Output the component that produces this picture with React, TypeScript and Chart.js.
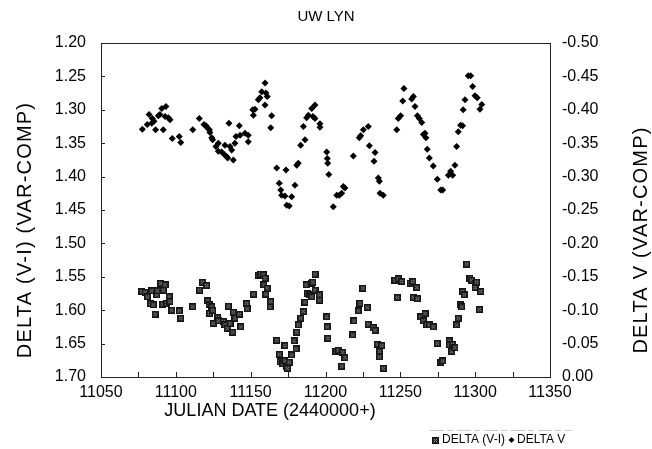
import React, { useEffect, useRef } from 'react';
import { Chart, registerables } from 'chart.js';

Chart.register(...registerables);

const FONT = "'Liberation Sans', Arial, Helvetica, sans-serif";

const chartTitle = 'UW LYN';
const xTitle = 'JULIAN DATE (2440000+)';
const leftTitle = 'DELTA (V-I) (VAR-COMP)';
const rightTitle = 'DELTA V (VAR-COMP)';
const seriesLabels = ['DELTA (V-I)', 'DELTA V'];

const xTicks = [11050, 11100, 11150, 11200, 11250, 11300, 11350];
const xTickMarks = [11050, 11075, 11100, 11125, 11150, 11175, 11200, 11225, 11250, 11275, 11300, 11325, 11350];
const leftTicks = [1.2, 1.25, 1.3, 1.35, 1.4, 1.45, 1.5, 1.55, 1.6, 1.65, 1.7];
const rightTicks = [-0.5, -0.45, -0.4, -0.35, -0.3, -0.25, -0.2, -0.15, -0.1, -0.05, 0];

// DELTA (V-I) series (squares, left axis)
const vmiDates = [
  11077.2, 11079.4, 11081.0, 11083.2, 11083.9, 11084.9, 11086.1, 11087.2, 11087.6, 11089.9,
  11091.2, 11091.6, 11092.8, 11093.9, 11095.6, 11096.1, 11097.2, 11102.3, 11103.3, 11111.3,
  11115.7, 11117.9, 11120.6, 11121.3, 11122.4, 11122.4, 11124.0, 11124.6, 11125.0, 11127.9,
  11128.4, 11131.7, 11132.8, 11134.4, 11135.1, 11136.2, 11138.0, 11138.4, 11139.5, 11142.4,
  11143.3, 11147.3, 11147.7, 11151.8, 11155.1, 11156.7, 11158.4, 11158.9, 11159.6, 11160.2,
  11161.1, 11163.0, 11163.4, 11167.4, 11169.1, 11169.6, 11171.4, 11172.9, 11172.9, 11174.1,
  11174.5, 11175.8, 11177.4, 11179.0, 11180.3, 11180.8, 11181.8, 11183.4, 11185.2, 11186.3,
  11187.0, 11187.8, 11189.6, 11190.8, 11190.8, 11191.5, 11193.0, 11193.0, 11195.9, 11195.9,
  11200.8, 11201.2, 11201.6, 11207.0, 11208.6, 11210.8, 11211.5, 11213.0, 11218.2, 11219.0,
  11221.9, 11223.0, 11224.9, 11227.9, 11228.6, 11231.9, 11233.1, 11234.6, 11236.0, 11236.0,
  11237.6, 11238.6, 11246.4, 11248.0, 11248.6, 11250.9, 11256.5, 11258.3, 11258.7, 11261.0,
  11261.4, 11263.6, 11265.4, 11266.5, 11267.6, 11269.4, 11272.0, 11274.7, 11277.0, 11278.3,
  11282.7, 11282.7, 11284.3, 11285.0, 11286.5, 11287.6, 11288.7, 11289.9, 11291.0, 11291.6,
  11292.7, 11294.3, 11296.5, 11297.6, 11299.9, 11299.9, 11301.0, 11302.8, 11303.7,
];
const vmiValues = [
  1.572, 1.573, 1.580, 1.590, 1.571, 1.592, 1.606, 1.577, 1.571, 1.560,
  1.591, 1.570, 1.562, 1.590, 1.580, 1.587, 1.600, 1.601, 1.612, 1.595,
  1.570, 1.558, 1.563, 1.586, 1.592, 1.605, 1.595, 1.600, 1.620, 1.611,
  1.616, 1.617, 1.622, 1.627, 1.594, 1.620, 1.633, 1.603, 1.612, 1.606,
  1.625, 1.590, 1.598, 1.576, 1.548, 1.546, 1.547, 1.562, 1.552, 1.576,
  1.567, 1.595, 1.587, 1.645, 1.666, 1.677, 1.680, 1.653, 1.676, 1.685,
  1.687, 1.678, 1.667, 1.646, 1.658, 1.633, 1.622, 1.612, 1.602, 1.588,
  1.562, 1.575, 1.577, 1.560, 1.580, 1.558, 1.546, 1.570, 1.577, 1.585,
  1.610, 1.625, 1.642, 1.662, 1.660, 1.684, 1.663, 1.671, 1.637, 1.616,
  1.601, 1.590, 1.567, 1.596, 1.621, 1.626, 1.630, 1.651, 1.662, 1.670,
  1.653, 1.687, 1.555, 1.581, 1.553, 1.557, 1.560, 1.557, 1.581, 1.566,
  1.583, 1.610, 1.616, 1.605, 1.622, 1.622, 1.625, 1.650, 1.678, 1.676,
  1.646, 1.652, 1.662, 1.651, 1.656, 1.622, 1.612, 1.592, 1.595, 1.572,
  1.577, 1.531, 1.552, 1.555, 1.560, 1.566, 1.558, 1.599, 1.572,
];

// DELTA V series (diamonds, right axis)
const dvDates = [
  11077.6, 11080.9, 11082.1, 11083.9, 11084.3, 11085.4, 11086.5, 11088.3, 11089.4, 11090.6,
  11091.6, 11092.8, 11093.4, 11095.0, 11096.1, 11097.6, 11102.3, 11103.3, 11111.3, 11115.7,
  11118.8, 11120.2, 11121.0, 11122.4, 11122.8, 11124.0, 11124.6, 11126.8, 11128.4, 11128.4,
  11130.6, 11132.4, 11132.8, 11134.0, 11134.6, 11135.5, 11136.2, 11137.3, 11138.4, 11139.5,
  11140.2, 11142.4, 11142.9, 11146.2, 11148.4, 11148.4, 11151.4, 11151.8, 11152.9, 11155.1,
  11156.2, 11157.4, 11159.6, 11159.6, 11160.2, 11161.1, 11163.4, 11164.0, 11167.4, 11169.1,
  11170.1, 11170.7, 11172.9, 11173.6, 11174.1, 11175.8, 11177.4, 11179.6, 11180.8, 11181.8,
  11183.4, 11185.2, 11186.3, 11187.4, 11188.5, 11190.8, 11191.6, 11193.0, 11193.0, 11196.3,
  11196.3, 11200.8, 11201.2, 11201.5, 11202.2, 11205.2, 11207.5, 11209.2, 11210.8, 11211.9,
  11213.0, 11218.6, 11222.6, 11223.5, 11225.3, 11228.6, 11229.3, 11232.4, 11233.1, 11235.3,
  11236.0, 11236.4, 11238.6, 11247.6, 11248.6, 11250.2, 11251.6, 11252.4, 11257.6, 11258.7,
  11259.8, 11261.4, 11262.7, 11264.3, 11265.4, 11266.5, 11267.1, 11268.0, 11269.4, 11272.0,
  11274.7, 11277.0, 11278.3, 11282.1, 11283.6, 11285.0, 11286.5, 11287.6, 11288.7, 11290.3,
  11291.6, 11292.0, 11293.2, 11295.4, 11297.0, 11298.3, 11299.9, 11301.4, 11303.2, 11304.4,
];
const dvValues = [
  -0.371, -0.378, -0.393, -0.380, -0.387, -0.383, -0.370, -0.391, -0.393, -0.402,
  -0.370, -0.390, -0.405, -0.388, -0.385, -0.357, -0.360, -0.351, -0.370, -0.387,
  -0.378, -0.376, -0.373, -0.370, -0.366, -0.358, -0.355, -0.345, -0.350, -0.338,
  -0.337, -0.333, -0.347, -0.330, -0.328, -0.380, -0.345, -0.340, -0.325, -0.350,
  -0.360, -0.376, -0.362, -0.365, -0.362, -0.352, -0.400, -0.392, -0.401, -0.415,
  -0.418, -0.427, -0.440, -0.407, -0.425, -0.420, -0.373, -0.391, -0.313, -0.290,
  -0.280, -0.272, -0.271, -0.310, -0.257, -0.256, -0.270, -0.287, -0.317, -0.320,
  -0.347, -0.375, -0.355, -0.388, -0.392, -0.402, -0.390, -0.407, -0.387, -0.379,
  -0.374, -0.337, -0.327, -0.320, -0.303, -0.255, -0.272, -0.272, -0.275, -0.285,
  -0.283, -0.331, -0.358, -0.361, -0.370, -0.375, -0.346, -0.323, -0.336, -0.298,
  -0.293, -0.275, -0.272, -0.370, -0.387, -0.391, -0.413, -0.432, -0.416, -0.420,
  -0.405, -0.391, -0.387, -0.381, -0.363, -0.365, -0.358, -0.341, -0.328, -0.316,
  -0.296, -0.280, -0.280, -0.302, -0.308, -0.302, -0.317, -0.345, -0.367, -0.377,
  -0.376, -0.400, -0.415, -0.451, -0.451, -0.435, -0.421, -0.418, -0.401, -0.408,
];

function makeSquareMarker(): HTMLCanvasElement {
  const c = document.createElement('canvas');
  c.width = 7;
  c.height = 7;
  const g = c.getContext('2d')!;
  g.fillStyle = '#141414';
  g.fillRect(0, 0, 7, 7);
  g.fillStyle = '#2a2a2a';
  g.fillRect(1, 1, 5, 5);
  g.fillStyle = '#181818';
  g.fillRect(2, 2, 3, 3);
  g.fillStyle = '#8c8c8c';
  g.fillRect(2, 2, 1, 1);
  g.fillRect(4, 2, 1, 1);
  g.fillRect(3, 3, 1, 1);
  g.fillRect(2, 4, 1, 1);
  g.fillRect(4, 4, 1, 1);
  return c;
}

function drawDiamond(ctx: CanvasRenderingContext2D, x: number, y: number, r: number) {
  ctx.beginPath();
  ctx.moveTo(x, y - r);
  ctx.lineTo(x + r, y);
  ctx.lineTo(x, y + r);
  ctx.lineTo(x - r, y);
  ctx.closePath();
  ctx.fill();
}

function drawVertical(ctx: any, text: string, cx: number, cy: number) {
  ctx.save();
  ctx.translate(cx, cy);
  ctx.rotate(-Math.PI / 2);
  ctx.font = `20px ${FONT}`;
  if ('letterSpacing' in ctx) ctx.letterSpacing = '1.2px';
  ctx.fillText(text, 0, 0);
  ctx.restore();
}

const decorPlugin = {
  id: 'decor',
  afterDraw(chart: any) {
    const { ctx, chartArea: a, scales } = chart;
    ctx.save();
    ctx.strokeStyle = '#222';
    ctx.lineWidth = 1;
    ctx.strokeRect(a.left + 0.5, a.top + 0.5, a.right - a.left, a.bottom - a.top);
    ctx.beginPath();
    xTickMarks.forEach((v) => {
      const x = Math.round(scales.x.getPixelForValue(v)) + 0.5;
      ctx.moveTo(x, a.bottom);
      ctx.lineTo(x, a.bottom - 5);
    });
    leftTicks.forEach((v) => {
      const y = Math.round(scales.y.getPixelForValue(v)) + 0.5;
      ctx.moveTo(a.left, y);
      ctx.lineTo(a.left + 4, y);
    });
    ctx.stroke();

    ctx.fillStyle = '#000';
    ctx.textAlign = 'center';
    ctx.textBaseline = 'middle';
    ctx.font = `18px ${FONT}`;
    ctx.fillText(xTitle, 270, 411);

    drawVertical(ctx, leftTitle, 25, 230);
    drawVertical(ctx, rightTitle, 641, 240);

    // legend
    ctx.font = `12px ${FONT}`;
    ctx.textAlign = 'left';
    const ly = 440;
    ctx.fillText(seriesLabels[1], 517, ly);
    drawDiamond(ctx, 511.5, ly, 3);
    const w1 = ctx.measureText(seriesLabels[0]).width;
    const x1 = 505 - w1;
    ctx.fillText(seriesLabels[0], x1, ly);
    const sq = chart.$squareMarker as HTMLCanvasElement;
    if (sq) ctx.drawImage(sq, Math.round(x1 - 10), Math.round(ly - 3.5));
    // faint legend frame line
    ctx.strokeStyle = '#c8c8c8';
    ctx.setLineDash([14, 3, 6, 4]);
    ctx.beginPath();
    ctx.moveTo(Math.round(x1 - 12), 430.5);
    ctx.lineTo(572, 430.5);
    ctx.stroke();
    ctx.restore();
  },
};

export default function App() {
  const ref = useRef<HTMLCanvasElement | null>(null);

  useEffect(() => {
    if (!ref.current) return;
    const squareMarker = makeSquareMarker();
    const tickFont = { family: FONT, size: 16 };
    const chart = new Chart(ref.current, {
      type: 'scatter',
      data: {
        datasets: [
          {
            label: seriesLabels[0],
            data: vmiDates.map((x, i) => ({ x, y: vmiValues[i] })),
            yAxisID: 'y',
            pointStyle: squareMarker as any,
            pointRadius: 3.5,
            backgroundColor: '#222',
            borderColor: '#222',
          },
          {
            label: seriesLabels[1],
            data: dvDates.map((x, i) => ({ x, y: dvValues[i] })),
            yAxisID: 'y2',
            pointStyle: 'rectRot',
            pointRadius: 3.5,
            borderWidth: 0,
            backgroundColor: '#000',
            borderColor: '#000',
          },
        ],
      },
      options: {
        animation: false,
        responsive: false,
        layout: { padding: 0 },
        plugins: {
          legend: { display: false },
          tooltip: { enabled: false },
          title: {
            display: true,
            text: chartTitle,
            color: '#000',
            font: { family: FONT, size: 15, weight: 'normal' },
            padding: { top: 8, bottom: 17 },
          },
        },
        scales: {
          x: {
            type: 'linear',
            min: 11050,
            max: 11350,
            afterBuildTicks: (s: any) => {
              s.ticks = xTicks.map((v) => ({ value: v }));
            },
            afterFit: (s: any) => {
              s.height = 72;
            },
            grid: { display: false, drawTicks: false },
            border: { display: false },
            ticks: {
              color: '#000',
              font: tickFont,
              padding: 6,
              maxRotation: 0,
              autoSkip: false,
              callback: (v: any) => String(v),
            },
          },
          y: {
            type: 'linear',
            position: 'left',
            reverse: true,
            min: 1.2,
            max: 1.7,
            afterBuildTicks: (s: any) => {
              s.ticks = leftTicks.map((v) => ({ value: v }));
            },
            afterFit: (s: any) => {
              s.width = 101;
            },
            grid: { display: false, drawTicks: false },
            border: { display: false },
            ticks: {
              color: '#000',
              font: tickFont,
              padding: 15,
              autoSkip: false,
              callback: (v: any) => Number(v).toFixed(2),
            },
          },
          y2: {
            type: 'linear',
            position: 'right',
            reverse: true,
            min: -0.5,
            max: 0,
            afterBuildTicks: (s: any) => {
              s.ticks = rightTicks.map((v) => ({ value: v }));
            },
            afterFit: (s: any) => {
              s.width = 102;
            },
            grid: { display: false, drawTicks: false },
            border: { display: false },
            ticks: {
              color: '#000',
              font: tickFont,
              padding: 12,
              autoSkip: false,
              callback: (v: any) => Number(v).toFixed(2),
            },
          },
        },
      },
      plugins: [decorPlugin],
    });
    (chart as any).$squareMarker = squareMarker;
    chart.draw();
    return () => chart.destroy();
  }, []);

  return (
    <div style={{ position: 'absolute', left: 0, top: 0, width: 652, height: 449, background: '#fff' }}>
      <canvas ref={ref} width={652} height={449} style={{ display: 'block' }} />
    </div>
  );
}
